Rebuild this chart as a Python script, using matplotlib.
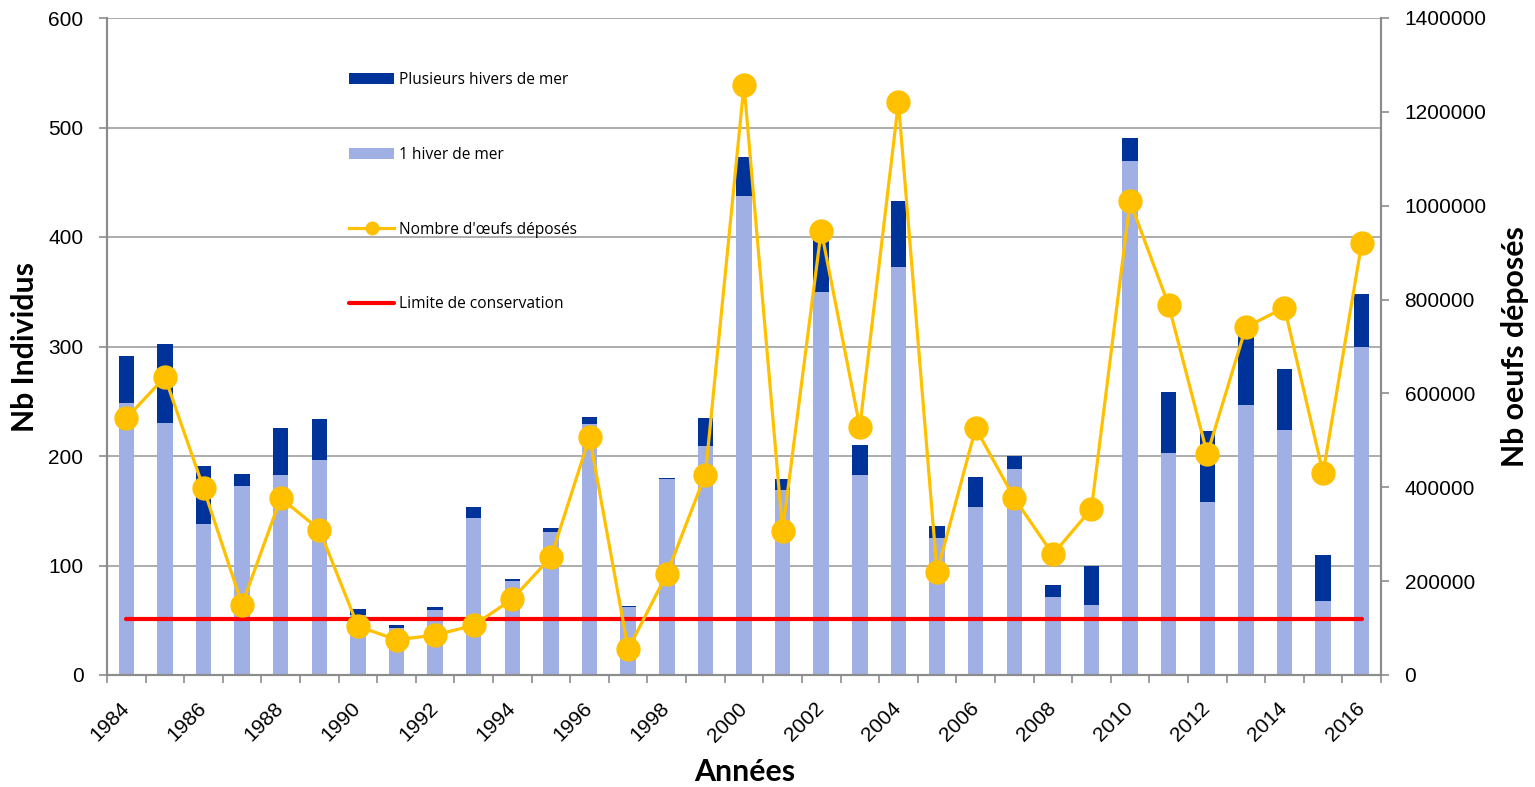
import matplotlib
matplotlib.use("Agg")
import matplotlib.pyplot as plt
import numpy as np
from matplotlib.ticker import FuncFormatter, FixedLocator

years = list(range(1984, 2017))
one_sea_winter = [248, 230, 138, 173, 183, 196, 55, 43, 59, 143, 86, 131, 229, 62, 179, 209, 437,
                  169, 350, 183, 373, 125, 153, 188, 71, 64, 469, 203, 158, 247, 224, 68, 300]
multi_sea_winter = [43, 72, 53, 11, 43, 38, 5, 3, 3, 10, 2, 3, 7, 1, 1, 26, 36,
                    10, 51, 27, 60, 11, 28, 12, 11, 36, 21, 55, 65, 68, 55, 42, 48]
eggs = [547000, 635000, 398000, 150000, 377000, 310000, 104000, 75000, 85000, 106000, 162000,
        251000, 507000, 55000, 215000, 427000, 1258000, 307000, 947000, 529000, 1220000, 219000,
        526000, 377000, 257000, 354000, 1009000, 788000, 471000, 741000, 783000, 430000, 920000]
conservation_limit = [51] * len(years)
year_labels = [str(y) if (y - 1984) % 2 == 0 else "" for y in years]

C_DARK = "#003399"
C_LIGHT = "#A0B0E4"
C_EGG = "#FFC000"
C_RED = "#FF0000"
C_AXIS = "#8C8C8C"

W, H = 1535, 787
fig = plt.figure(figsize=(W / 100, H / 100), dpi=100)
L, R, T, B = 107, 1381, 18, 675
ax = fig.add_axes([L / W, 1 - B / H, (R - L) / W, (B - T) / H])
ax2 = ax.twinx()

x = np.arange(len(years))
b1 = ax.bar(x, one_sea_winter, width=0.4, color=C_LIGHT, zorder=2, label="1 hiver de mer")
b2 = ax.bar(x, multi_sea_winter, width=0.4, bottom=one_sea_winter, color=C_DARK, zorder=2,
            label="Plusieurs hivers de mer")
lim, = ax.plot(x, conservation_limit, color=C_RED, lw=3, solid_capstyle="round", zorder=3,
               label="Limite de conservation")
egg, = ax2.plot(x, eggs, color=C_EGG, lw=2.3, marker="o", markersize=16.5, zorder=4,
                label="Nombre d'\u0153ufs déposés")

ax.set_xlim(-0.5, len(years) - 0.5)
ax.set_ylim(0, 600)
ax.set_yticks(range(0, 601, 100))
ax2.set_ylim(0, 1400000)
ax2.set_yticks(range(0, 1400001, 200000))
ax2.yaxis.set_major_formatter(FuncFormatter(lambda v, p: f"{int(v)}"))

ax.grid(axis="y", color="#A6A6A6", lw=1.3, zorder=0)
ax.set_axisbelow(True)

# x ticks: marks at category boundaries, labels at centres
ax.xaxis.set_major_locator(FixedLocator(x))
ax.set_xticklabels(year_labels)
ax.xaxis.set_minor_locator(FixedLocator(np.arange(-0.5, len(years) + 0.5, 1)))
ax.tick_params(axis="x", which="major", length=0, pad=22)
ax.tick_params(axis="x", which="minor", length=6, width=1.2, color=C_AXIS)
for lab in ax.get_xticklabels():
    lab.set_rotation(45)
    lab.set_ha("right")
    lab.set_va("center")
    lab.set_rotation_mode("anchor")
    lab.set_fontfamily("Liberation Sans")
    lab.set_fontsize(15)

ax.tick_params(axis="y", length=6, width=1.2, color=C_AXIS, labelsize=15, pad=11)
ax2.tick_params(axis="y", length=6, width=1.2, color=C_AXIS, labelsize=15, pad=11)
for a in (ax, ax2):
    for lab in a.get_yticklabels():
        lab.set_fontfamily("Liberation Sans")
    a.spines["top"].set_visible(False)
    for s in ("left", "right", "bottom"):
        a.spines[s].set_color(C_AXIS)
        a.spines[s].set_linewidth(1.5)

ax.set_ylabel("Nb Individus", fontsize=21.8, fontweight="bold", family="Lato", va="center")
ax.yaxis.set_label_coords(-0.064, 0.5)
ax2.set_ylabel("Nb oeufs déposés", fontsize=21.8, fontweight="bold", family="Lato",
               va="center", rotation=90)
ax2.yaxis.set_label_coords(1.105, 0.5)
ax.set_xlabel("Années", fontsize=21.8, fontweight="bold", family="Lato", va="center")
ax.xaxis.set_label_coords(0.5008, -0.148)

leg = ax2.legend([b2, b1, egg, lim],
                 ["Plusieurs hivers de mer", "1 hiver de mer", "Nombre d'\u0153ufs déposés",
                  "Limite de conservation"],
                 loc="upper left", bbox_to_anchor=(349 / W, 1 - 72 / H),
                 bbox_transform=fig.transFigure, frameon=False,
                 prop={"family": "Open Sans", "size": 11.2}, handlelength=2.9,
                 handletextpad=0.3, labelspacing=3.78, borderpad=0, borderaxespad=0)
for h in leg.legend_handles:
    if hasattr(h, "set_markersize"):
        h.set_markersize(9)

fig.savefig("out.png", dpi=100)
